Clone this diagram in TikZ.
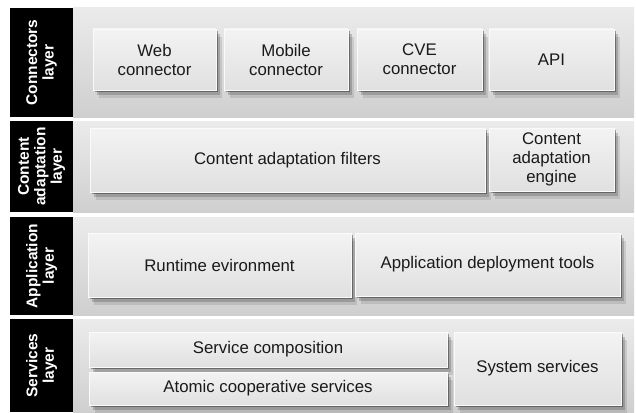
\documentclass[tikz,border=0pt]{standalone}
\usepackage{fontspec}
\newfontfamily\hv{Liberation Sans}
\usetikzlibrary{shadows}
\definecolor{bandtop}{HTML}{EBEBEB}
\definecolor{bandbot}{HTML}{CFCFCF}
\definecolor{boxtop}{HTML}{F3F3F3}
\definecolor{boxbot}{HTML}{E0E0E0}
\definecolor{boxedge}{HTML}{FAFAFA}
\definecolor{txt}{HTML}{1A1A1A}
\tikzset{
  band/.style={top color=bandtop, bottom color=bandbot, draw=none},
  lab/.style={text=white, font=\hv\bfseries\fontsize{15.5}{16.5}\selectfont, align=center, inner sep=0pt, rotate=90},
  softshadow/.style={
    drop shadow={shadow xshift=1.5pt, shadow yshift=-2pt, opacity=.35, fill=black},
    drop shadow={shadow xshift=3.5pt, shadow yshift=-5pt, opacity=.18, fill=black},
    drop shadow={shadow xshift=6pt, shadow yshift=-8pt, opacity=.10, fill=black}},
  box/.style={softshadow, draw=boxedge, line width=0.8pt, top color=boxtop, bottom color=boxbot,
    font=\hv\fontsize{16.8}{19}\selectfont, text=txt, align=center, inner sep=0pt}
}
\begin{document}
\begin{tikzpicture}[x=1pt,y=-1pt]
\useasboundingbox[fill=white] (0,0) rectangle (636,412);
% bands
\fill[band] (73,8) rectangle (634,117);
\fill[band] (73,121) rectangle (634,212);
\fill[band] (73,217) rectangle (634,315);
\fill[band] (73,319) rectangle (634,412);
% black label strips
\fill[black] (10,8) rectangle (73,117);
\fill[black] (10,121) rectangle (73,212);
\fill[black] (10,217) rectangle (73,315);
\fill[black] (10,319) rectangle (73,412);
\node[lab] (l1) at (41.5,62.5) {Connectors\\layer};
\node[lab] (l2) at (41.5,166.5) {Content\\adaptation\\layer};
\node[lab] (l3) at (41.5,266) {Application\\layer};
\node[lab] (l4) at (41.5,365.5) {Services\\layer};
% connectors layer
\node[box, minimum width=123pt, minimum height=61pt] (web) at (154.5,59.5) {Web\\connector};
\node[box, minimum width=124pt, minimum height=61pt] (mob) at (286,59.5) {Mobile\\connector};
\node[box, minimum width=125pt, minimum height=61pt] (cve) at (419.5,59.5) {CVE\\connector};
\node[box, minimum width=125pt, minimum height=61pt] (api) at (551.5,59.5) {API};
% content adaptation layer
\node[box, minimum width=395pt, minimum height=64pt] (filt) at (287.5,160) {Content adaptation filters};
\node[box, minimum width=125pt, minimum height=63pt] (eng) at (551.5,159.5) {Content\\adaptation\\engine};
% application layer
\node[box, minimum width=263pt, minimum height=64pt] (rt) at (219.5,265) {Runtime evironment};
\node[box, minimum width=265pt, minimum height=63pt] (dep) at (487.5,264.5) {Application deployment tools};
% services layer
\node[box, minimum width=358pt, minimum height=35pt] (comp) at (268,349.5) {Service composition};
\node[box, minimum width=358pt, minimum height=33pt] (atom) at (268,388.5) {Atomic cooperative services};
\node[box, minimum width=167pt, minimum height=73pt] (sys) at (537.5,368.5) {System services};
\end{tikzpicture}
\end{document}
